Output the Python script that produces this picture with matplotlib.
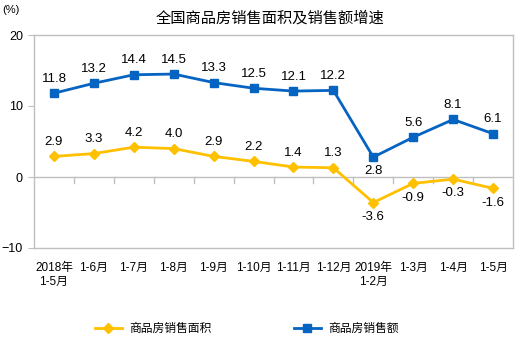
import numpy as np
import matplotlib
matplotlib.use('Agg')
import matplotlib.pyplot as plt

plt.rcParams['font.family'] = ['Liberation Sans', 'Noto Sans CJK SC']

cats = ['2018年\n1-5月', '1-6月', '1-7月', '1-8月', '1-9月', '1-10月', '1-11月', '1-12月',
        '2019年\n1-2月', '1-3月', '1-4月', '1-5月']
area = [2.9, 3.3, 4.2, 4.0, 2.9, 2.2, 1.4, 1.3, -3.6, -0.9, -0.3, -1.6]
amount = [11.8, 13.2, 14.4, 14.5, 13.3, 12.5, 12.1, 12.2, 2.8, 5.6, 8.1, 6.1]

blue = '#0563C1'
yellow = '#FFC000'
gray = '#BFBFBF'

fig = plt.figure(figsize=(5.19, 3.40), dpi=100)
ax = fig.add_axes([34/519, 1-248/340, 479/519, 213/340])
x = np.arange(len(cats))
ax.plot(x, area, color=yellow, lw=2, marker='D', ms=5, label='商品房销售面积')
ax.plot(x, amount, color=blue, lw=2, marker='s', ms=5.5, label='商品房销售额')

for i in range(len(cats)):
    dy = 6 if i < 8 else -6
    va = 'bottom' if i < 8 else 'top'
    ax.annotate('%.1f' % area[i], (x[i], area[i]), xytext=(0, dy), textcoords='offset points',
                ha='center', va=va, fontsize=9.5)
    dy = 6 if i != 8 else -6
    va = 'bottom' if i != 8 else 'top'
    ax.annotate('%.1f' % amount[i], (x[i], amount[i]), xytext=(0, dy), textcoords='offset points',
                ha='center', va=va, fontsize=9.5)

ax.set_xlim(-0.5, len(cats) - 0.5)
ax.set_ylim(-10, 20)
ax.set_yticks([-10, 0, 10, 20])
ax.tick_params(axis='y', length=4, color=gray, labelsize=9, pad=4)
ax.tick_params(axis='x', length=0, labelsize=8.5, pad=10)
ax.set_xticks(x)
ax.set_xticklabels(cats)
for s in ax.spines.values():
    s.set_color(gray)
    s.set_linewidth(1)

# zero line with category tick marks
ax.axhline(0, color=gray, lw=1, zorder=1)
for b in np.arange(0.5, len(cats) - 0.5, 1):
    ax.plot([b, b], [0, -0.8], color=gray, lw=1, zorder=1)

fig.text(0.52, 1-18/340, '全国商品房销售面积及销售额增速', ha='center', va='center', fontsize=11)
fig.text(0.005, 1-10/340, '(%)', ha='left', va='center', fontsize=8)

fig.legend(loc='center', bbox_to_anchor=(0.475, 1-329/340), ncol=2, frameon=False,
           fontsize=8.5, handlelength=2.3, handletextpad=0.6, columnspacing=7)

fig.savefig('out.png', dpi=100)
